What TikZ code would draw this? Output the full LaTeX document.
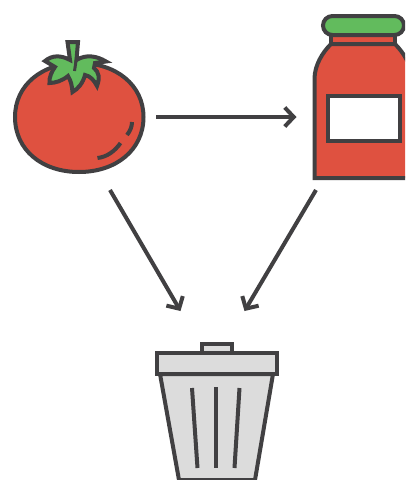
\documentclass[tikz,border=0pt]{standalone}
\usetikzlibrary{arrows.meta}
\definecolor{ink}{HTML}{414042}
\definecolor{tomred}{HTML}{DF5140}
\definecolor{leaf}{HTML}{62BB5D}
\definecolor{bingrey}{HTML}{DCDCDC}
\tikzset{
  outline/.style={draw=ink,line width=4pt,line join=miter,miter limit=3},
  flow/.style={draw=ink,line width=4pt,-{Straight Barb[length=9pt,width=19pt,line width=4pt]}},
  mark line/.style={draw=ink,line width=4pt}
}
\begin{document}
\begin{tikzpicture}[x=1pt,y=-1pt]
\useasboundingbox (0,0) rectangle (405,480);
\clip (0,0) rectangle (405,480);
% tomato
\path[outline,fill=tomred] (15,117) .. controls (15,85) and (42,63) .. (79,63)
  .. controls (116,63) and (143.5,85) .. (143.5,117)
  .. controls (143.5,150) and (116,172) .. (79,172)
  .. controls (42,172) and (15,150) .. (15,117) -- cycle;
\path[outline,fill=leaf,miter limit=5] (67.5,42) -- (78,42) -- (76.5,60)
  .. controls (86,54) and (97,56) .. (106,61.5) -- (95,63) -- (94,68)
  .. controls (99,72) and (100,78) .. (97,86) .. controls (94,80) and (90,76) .. (85,75)
  .. controls (83,83) and (78,89) .. (72.5,92) .. controls (72,86) and (71,81) .. (68,76)
  .. controls (62,81) and (55,83) .. (49.5,83) .. controls (49,77) and (52,71) .. (55,67)
  -- (45,61) .. controls (52,55) and (61,55) .. (70,60) -- cycle;
\draw[draw=ink,line width=3pt] (76.5,58) -- (74.5,71);
\draw[mark line] (97.5,158) .. controls (107,157) and (115,151) .. (120.5,143);
\draw[mark line] (127,135) .. controls (130,131) and (132,127) .. (132,122);
% jar
\path[outline,fill=tomred] (314.5,178) -- (314.5,78) .. controls (315,65) and (322,53) .. (331,44)
  -- (395,44) .. controls (404,53) and (411,65) .. (412,78) -- (412,178) -- cycle;
\path[outline,fill=tomred] (331,35) rectangle (395,44);
\path[outline,fill=leaf,rounded corners=9.5pt] (323,16) rectangle (404,35);
\path[outline,fill=white] (327.5,95.5) rectangle (399.5,141);
% bin
\path[outline,fill=bingrey] (160,374) -- (179,480) -- (255,480) -- (273,374) -- cycle;
\path[outline,fill=bingrey] (201.5,343.5) rectangle (231.5,353);
\path[outline,fill=bingrey] (157,353) rectangle (277,374);
\draw[mark line] (192,388) -- (197.5,468);
\draw[mark line] (215.5,387) -- (215.5,468);
\draw[mark line] (239.5,388) -- (234.5,468);
% flows
\coordinate (tomatoOut) at (156,117);
\coordinate (jarIn) at (296.5,117);
\coordinate (tomatoDown) at (110,190);
\coordinate (jarDown) at (316,190);
\coordinate (binLeft) at (180.5,311);
\coordinate (binRight) at (244.5,311);
\draw[flow] (tomatoOut) -- (jarIn);
\draw[flow] (tomatoDown) -- (binLeft);
\draw[flow] (jarDown) -- (binRight);
\end{tikzpicture}
\end{document}
